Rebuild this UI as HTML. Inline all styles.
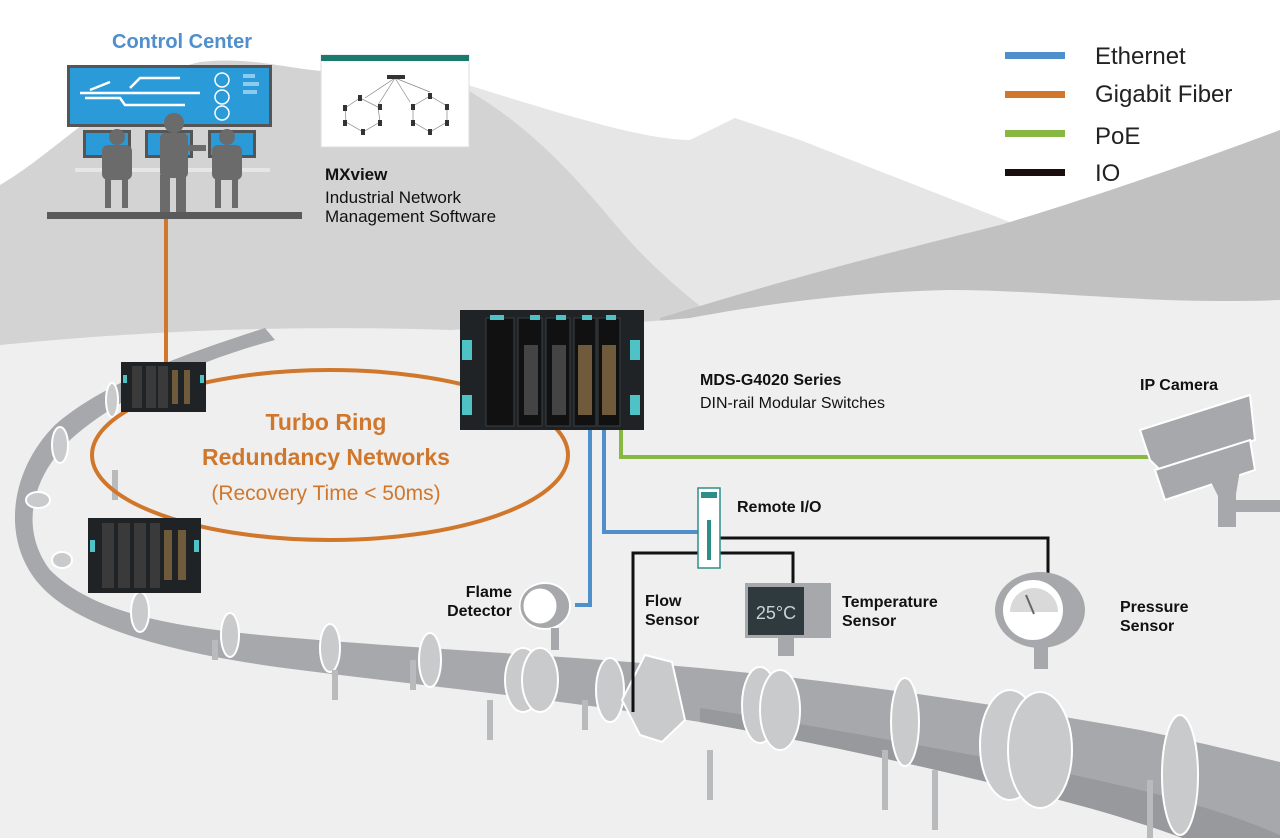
<!DOCTYPE html>
<html><head><meta charset="utf-8"><style>
html,body{margin:0;padding:0;background:#fff;width:1280px;height:838px;overflow:hidden}
svg{display:block}
text{font-family:"Liberation Sans",Arial,sans-serif}
</style></head><body>
<svg width="1280" height="838" viewBox="0 0 1280 838" xmlns="http://www.w3.org/2000/svg">
<rect width="1280" height="838" fill="#fff"/>
<!-- mountains -->
<path d="M445,78 C550,110 640,140 690,140 L735,118 L800,140 L1025,228 L1025,330 L445,330 Z" fill="#e6e6e6"/>
<path d="M0,185 C60,150 120,80 200,62 C260,55 300,75 360,72 C400,70 420,72 445,78 C520,115 570,170 620,230 C650,265 680,290 705,310 L705,345 L0,345 Z" fill="#d3d3d3"/>
<path d="M660,318 C800,275 900,250 1000,225 C1100,195 1200,160 1280,130 L1280,330 L660,330 Z" fill="#c1c1c1"/>
<path d="M0,345 C150,330 300,325 450,330 C550,325 620,325 690,318 C760,305 850,292 950,290 C1050,290 1150,305 1280,300 L1280,838 L0,838 Z" fill="#efefef"/>

<!-- legend -->
<rect x="1005" y="52" width="60" height="7" fill="#4f8fcb"/>
<rect x="1005" y="91" width="60" height="7" fill="#d0772c"/>
<rect x="1005" y="130" width="60" height="7" fill="#86b842"/>
<rect x="1005" y="169" width="60" height="7" fill="#1a0e0e"/>
<text x="1095" y="64" font-size="24" fill="#222">Ethernet</text>
<text x="1095" y="102" font-size="24" fill="#222">Gigabit Fiber</text>
<text x="1095" y="144" font-size="24" fill="#222">PoE</text>
<text x="1095" y="181" font-size="24" fill="#222">IO</text>

<!-- pipe -->
<path d="M275,340 C200,360 120,395 70,440 C30,480 20,530 50,570 C90,610 160,625 260,635 C400,648 560,655 700,668 C850,682 1000,705 1140,730 C1200,742 1250,755 1280,762 L1280,880 C1200,840 1120,815 1040,795 C900,760 800,740 700,722 C560,700 420,685 300,670 C180,655 80,630 40,585 C0,540 10,470 55,425 C100,385 180,355 265,328 Z" fill="#a6a8ab"/>
<path d="M700,722 C800,740 900,760 1040,795 C1120,815 1200,840 1280,880 L1280,835 C1200,800 1100,780 1000,760 C880,738 780,720 700,708 Z" fill="#97999c"/>
<!-- clamps -->
<g fill="#c9cacc" stroke="#fff" stroke-width="2">
<ellipse cx="112" cy="400" rx="6" ry="17"/>
<ellipse cx="60" cy="445" rx="8" ry="18"/>
<ellipse cx="38" cy="500" rx="12" ry="8"/>
<ellipse cx="62" cy="560" rx="10" ry="8"/>
<ellipse cx="140" cy="612" rx="9" ry="20"/>
<ellipse cx="230" cy="635" rx="9" ry="22"/>
<ellipse cx="330" cy="648" rx="10" ry="24"/>
<ellipse cx="430" cy="660" rx="11" ry="27"/>
<ellipse cx="523" cy="680" rx="18" ry="32"/>
<ellipse cx="540" cy="680" rx="18" ry="32"/>
<ellipse cx="610" cy="690" rx="14" ry="32"/>
<ellipse cx="760" cy="705" rx="18" ry="38"/>
<ellipse cx="780" cy="710" rx="20" ry="40"/>
<ellipse cx="905" cy="722" rx="14" ry="44"/>
<ellipse cx="1010" cy="745" rx="30" ry="55"/>
<ellipse cx="1040" cy="750" rx="32" ry="58"/>
<ellipse cx="1180" cy="775" rx="18" ry="60"/>
</g>
<polygon points="622,700 645,655 672,662 685,720 662,742 640,735" fill="#c9cacc" stroke="#fff" stroke-width="2"/>
<g stroke="#b9babc" stroke-width="6">
<line x1="215" y1="640" x2="215" y2="660"/><line x1="335" y1="670" x2="335" y2="700"/><line x1="413" y1="660" x2="413" y2="690"/>
<line x1="490" y1="700" x2="490" y2="740"/><line x1="585" y1="700" x2="585" y2="730"/><line x1="710" y1="750" x2="710" y2="800"/>
<line x1="885" y1="750" x2="885" y2="810"/><line x1="935" y1="770" x2="935" y2="830"/><line x1="1150" y1="780" x2="1150" y2="838"/><line x1="115" y1="470" x2="115" y2="500"/>
</g>

<!-- connections -->
<line x1="166" y1="218" x2="166" y2="365" stroke="#d0772c" stroke-width="4"/>
<ellipse cx="330" cy="455" rx="238" ry="85" fill="none" stroke="#d0772c" stroke-width="4"/>
<path d="M590,425 L590,605 L575,605" fill="none" stroke="#4f8fcb" stroke-width="4"/>
<path d="M604,425 L604,532 L700,532" fill="none" stroke="#4f8fcb" stroke-width="4"/>
<path d="M621,425 L621,457 L1150,457" fill="none" stroke="#86b842" stroke-width="4"/>
<path d="M710,538 L1048,538 L1048,578" fill="none" stroke="#111" stroke-width="3"/>
<path d="M633,712 L633,553 L793,553 L793,585" fill="none" stroke="#111" stroke-width="3"/>

<!-- control center -->
<text x="182" y="48" font-size="20" font-weight="bold" fill="#4f8fcb" text-anchor="middle">Control Center</text>
<rect x="67" y="65" width="205" height="62" fill="#555"/>
<rect x="70" y="68" width="199" height="56" fill="#2a9ad8"/>
<g stroke="#fff" stroke-width="2.5" fill="none"><path d="M80,93 L200,93 M85,98 L120,98 L125,105 L185,105 M130,88 L140,78 L180,78 M90,90 L110,82"/></g>
<g fill="none" stroke="#fff" stroke-width="1.5"><circle cx="222" cy="80" r="7"/><circle cx="222" cy="97" r="7"/><circle cx="222" cy="113" r="7"/></g>
<g fill="#8ccbee"><rect x="243" y="74" width="12" height="4"/><rect x="243" y="82" width="16" height="4"/><rect x="243" y="90" width="14" height="4"/></g>
<rect x="83" y="130" width="48" height="28" fill="#555"/><rect x="86" y="133" width="42" height="22" fill="#2a9ad8"/>
<rect x="145" y="130" width="48" height="28" fill="#555"/><rect x="148" y="133" width="42" height="22" fill="#2a9ad8"/>
<rect x="208" y="130" width="48" height="28" fill="#555"/><rect x="211" y="133" width="42" height="22" fill="#2a9ad8"/>
<rect x="75" y="168" width="195" height="4" fill="#e6e6e6"/>
<g fill="#6b6b6b">
<circle cx="117" cy="137" r="8"/><rect x="102" y="145" width="30" height="35" rx="6"/><rect x="105" y="178" width="6" height="30"/><rect x="122" y="178" width="6" height="30"/>
<circle cx="227" cy="137" r="8"/><rect x="212" y="145" width="30" height="35" rx="6"/><rect x="215" y="178" width="6" height="30"/><rect x="232" y="178" width="6" height="30"/>
<circle cx="174" cy="123" r="10"/><rect x="160" y="133" width="28" height="45" rx="5"/><rect x="188" y="145" width="18" height="6"/><rect x="160" y="175" width="10" height="37"/><rect x="176" y="175" width="10" height="37"/>
</g>
<rect x="47" y="212" width="255" height="7" fill="#5a5a5a"/>

<!-- MXview -->
<rect x="321" y="55" width="148" height="92" fill="#fff" stroke="#ddd"/>
<rect x="321" y="55" width="148" height="6" fill="#1a7b6d"/>
<g stroke="#888" stroke-width="0.7" fill="none"><path d="M395,78 L365,98 M395,78 L378,105 M395,78 L410,102 M395,78 L430,92 M345,108 L360,98 L378,107 L380,122 L363,132 L346,122 Z M413,106 L430,96 L447,106 L447,122 L430,132 L413,122 Z"/></g>
<rect x="387" y="75" width="18" height="4" fill="#333"/>
<g fill="#333"><rect x="343" y="105" width="4" height="6"/><rect x="358" y="95" width="4" height="6"/><rect x="378" y="104" width="4" height="6"/><rect x="378" y="120" width="4" height="6"/><rect x="343" y="120" width="4" height="6"/><rect x="361" y="129" width="4" height="6"/><rect x="411" y="104" width="4" height="6"/><rect x="428" y="93" width="4" height="6"/><rect x="445" y="104" width="4" height="6"/><rect x="445" y="120" width="4" height="6"/><rect x="411" y="120" width="4" height="6"/><rect x="428" y="129" width="4" height="6"/></g>
<text x="325" y="180" font-size="17" font-weight="bold" fill="#111">MXview</text>
<text x="325" y="203" font-size="17" fill="#111">Industrial Network</text>
<text x="325" y="222" font-size="17" fill="#111">Management Software</text>

<!-- switches -->
<g>
<rect x="460" y="310" width="184" height="120" fill="#1f2326"/>
<g fill="#111" stroke="#3a3f44"><rect x="486" y="318" width="28" height="108"/><rect x="518" y="318" width="24" height="108"/><rect x="546" y="318" width="24" height="108"/><rect x="574" y="318" width="22" height="108"/><rect x="598" y="318" width="22" height="108"/></g>
<g fill="#4fc2c6"><rect x="462" y="340" width="10" height="20"/><rect x="462" y="395" width="10" height="20"/><rect x="630" y="340" width="10" height="20"/><rect x="630" y="395" width="10" height="20"/><rect x="490" y="315" width="14" height="5"/><rect x="530" y="315" width="10" height="5"/><rect x="556" y="315" width="10" height="5"/><rect x="582" y="315" width="10" height="5"/><rect x="606" y="315" width="10" height="5"/></g>
<g fill="#6f5a3c"><rect x="578" y="345" width="14" height="70"/><rect x="602" y="345" width="14" height="70"/></g>
<g fill="#444"><rect x="524" y="345" width="14" height="70"/><rect x="552" y="345" width="14" height="70"/></g>
</g>
<g>
<rect x="121" y="362" width="85" height="50" fill="#1f2326"/>
<g fill="#3a3a3a"><rect x="132" y="366" width="10" height="42"/><rect x="146" y="366" width="10" height="42"/><rect x="158" y="366" width="10" height="42"/></g>
<g fill="#6f5a3c"><rect x="172" y="370" width="6" height="34"/><rect x="184" y="370" width="6" height="34"/></g>
<g fill="#4fc2c6"><rect x="123" y="375" width="4" height="8"/><rect x="200" y="375" width="4" height="8"/></g>
</g>
<g>
<rect x="88" y="518" width="113" height="75" fill="#1f2326"/>
<g fill="#3a3a3a"><rect x="102" y="523" width="12" height="65"/><rect x="118" y="523" width="12" height="65"/><rect x="134" y="523" width="12" height="65"/><rect x="150" y="523" width="10" height="65"/></g>
<g fill="#6f5a3c"><rect x="164" y="530" width="8" height="50"/><rect x="178" y="530" width="8" height="50"/></g>
<g fill="#4fc2c6"><rect x="90" y="540" width="5" height="12"/><rect x="194" y="540" width="5" height="12"/></g>
</g>

<text x="326" y="430" font-size="23" font-weight="bold" fill="#d0772c" text-anchor="middle">Turbo Ring</text>
<text x="326" y="465" font-size="23" font-weight="bold" fill="#d0772c" text-anchor="middle">Redundancy Networks</text>
<text x="326" y="500" font-size="21" fill="#d0772c" text-anchor="middle">(Recovery Time &lt; 50ms)</text>

<text x="700" y="385" font-size="16" font-weight="bold" fill="#111">MDS-G4020 Series</text>
<text x="700" y="408" font-size="16" fill="#111">DIN-rail Modular Switches</text>

<!-- camera -->
<text x="1140" y="390" font-size="16" font-weight="bold" fill="#111">IP Camera</text>
<polygon points="1140,430 1250,395 1255,440 1160,470 1150,460" fill="#a6a8ab" stroke="#fff" stroke-width="2"/>
<polygon points="1155,470 1250,440 1255,470 1165,500" fill="#a6a8ab" stroke="#fff" stroke-width="2"/>
<polygon points="1210,480 1240,470 1235,500 1220,500" fill="#a6a8ab"/>
<rect x="1218" y="495" width="18" height="32" fill="#a6a8ab"/>
<rect x="1236" y="500" width="44" height="12" fill="#a6a8ab"/>

<!-- remote IO -->
<rect x="698" y="488" width="22" height="80" fill="#fff" stroke="#2b8f88" stroke-width="1.5"/>
<rect x="701" y="492" width="16" height="6" fill="#2b8f88"/>
<rect x="707" y="520" width="4" height="40" fill="#2b8f88"/>
<text x="737" y="512" font-size="16" font-weight="bold" fill="#111">Remote I/O</text>

<!-- sensors -->
<ellipse cx="545" cy="606" rx="25" ry="23" fill="#a6a8ab" stroke="#fff" stroke-width="2"/>
<ellipse cx="540" cy="606" rx="18" ry="19" fill="#fff" stroke="#a6a8ab" stroke-width="3"/>
<rect x="551" y="628" width="8" height="22" fill="#a6a8ab"/>
<text x="512" y="597" font-size="16" font-weight="bold" fill="#111" text-anchor="end">Flame</text>
<text x="512" y="616" font-size="16" font-weight="bold" fill="#111" text-anchor="end">Detector</text>
<text x="645" y="606" font-size="16" font-weight="bold" fill="#111">Flow</text>
<text x="645" y="625" font-size="16" font-weight="bold" fill="#111">Sensor</text>
<rect x="745" y="583" width="86" height="55" fill="#a6a8ab"/>
<rect x="748" y="587" width="56" height="48" fill="#2f3a3e"/>
<text x="776" y="619" font-size="18" fill="#c9d3d6" text-anchor="middle">25°C</text>
<rect x="778" y="638" width="16" height="18" fill="#a6a8ab"/>
<text x="842" y="607" font-size="16" font-weight="bold" fill="#111">Temperature</text>
<text x="842" y="626" font-size="16" font-weight="bold" fill="#111">Sensor</text>
<ellipse cx="1040" cy="610" rx="45" ry="38" fill="#a6a8ab"/>
<circle cx="1033" cy="610" r="32" fill="#fff" stroke="#a6a8ab" stroke-width="4"/>
<path d="M1010,612 A24,24 0 0 1 1058,612 Z" fill="#d9d9d9"/>
<line x1="1034" y1="614" x2="1026" y2="595" stroke="#666" stroke-width="2"/>
<rect x="1034" y="647" width="14" height="22" fill="#a6a8ab"/>
<text x="1120" y="612" font-size="16" font-weight="bold" fill="#111">Pressure</text>
<text x="1120" y="631" font-size="16" font-weight="bold" fill="#111">Sensor</text>
</svg>
</body></html>
